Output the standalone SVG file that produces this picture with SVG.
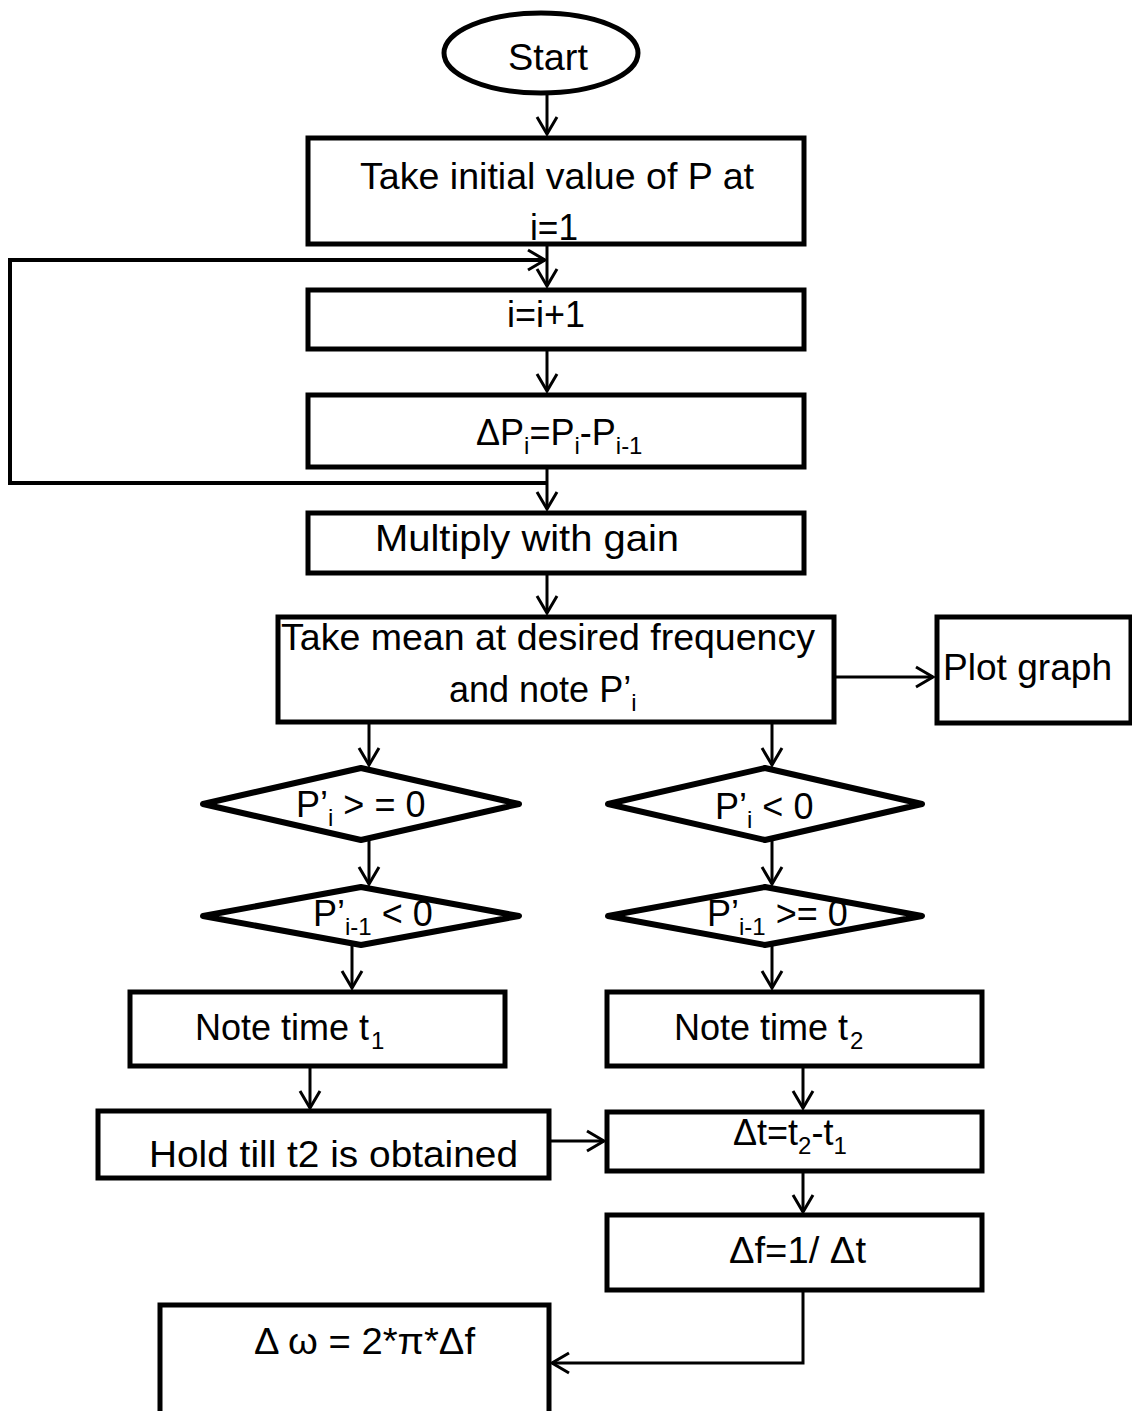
<svg xmlns="http://www.w3.org/2000/svg" width="1132" height="1411" viewBox="0 0 1132 1411">
  <style>
    .box { fill: #fff; stroke: #000; stroke-width: 5; }
    .dia { fill: #fff; stroke: #000; stroke-width: 6; stroke-linejoin: round; }
    .con { fill: none; stroke: #000; stroke-width: 3; }
    .t { font-family: "Liberation Sans", Arial, sans-serif; font-size: 36px; fill: #000; }
    .sub { font-size: 24px; }
  </style>
  <defs>
    <marker id="arr" markerWidth="22" markerHeight="24" refX="19" refY="12" orient="auto" markerUnits="userSpaceOnUse">
      <path d="M2,2 L19,12 L2,22" fill="none" stroke="#000" stroke-width="3"/>
    </marker>
  </defs>
  <rect width="1132" height="1411" fill="#fff"/>

  <g id="connectors">
    <path class="con" d="M547,93 V134" marker-end="url(#arr)"/>
    <path class="con" d="M547,244 V286" marker-end="url(#arr)"/>
    <path class="con" d="M547,349 V391" marker-end="url(#arr)"/>
    <path class="con" d="M547,467 V509" marker-end="url(#arr)"/>
    <path class="con" d="M547,483 H10 V260 H545" style="stroke-width:4" marker-end="url(#arr)"/>
    <path class="con" d="M547,573 V613" marker-end="url(#arr)"/>
    <path class="con" d="M834,677 H933" marker-end="url(#arr)"/>
    <path class="con" d="M369,722 V765" marker-end="url(#arr)"/>
    <path class="con" d="M772,722 V765" marker-end="url(#arr)"/>
    <path class="con" d="M369,840 V884" marker-end="url(#arr)"/>
    <path class="con" d="M772,840 V884" marker-end="url(#arr)"/>
    <path class="con" d="M352,945 V988" marker-end="url(#arr)"/>
    <path class="con" d="M772,945 V988" marker-end="url(#arr)"/>
    <path class="con" d="M310,1066 V1108" marker-end="url(#arr)"/>
    <path class="con" d="M803,1066 V1108" marker-end="url(#arr)"/>
    <path class="con" d="M549,1141 H604" marker-end="url(#arr)"/>
    <path class="con" d="M803,1171 V1212" marker-end="url(#arr)"/>
    <path class="con" d="M803,1290 V1363 H552" marker-end="url(#arr)"/>
  </g>

  <g id="start">
    <ellipse cx="541" cy="53" rx="97" ry="40" class="box"/>
    <text class="t" x="508" y="70" textLength="80" lengthAdjust="spacingAndGlyphs">Start</text>
  </g>

  <g id="init">
    <rect x="308" y="138" width="496" height="106" class="box"/>
    <text class="t" x="360" y="189" textLength="394" lengthAdjust="spacingAndGlyphs">Take initial value of P at</text>
    <text class="t" x="530" y="240" textLength="48" lengthAdjust="spacingAndGlyphs">i=1</text>
  </g>

  <g id="increment">
    <rect x="308" y="290" width="496" height="59" class="box"/>
    <text class="t" x="507" y="327" textLength="78" lengthAdjust="spacingAndGlyphs">i=i+1</text>
  </g>

  <g id="delta-p">
    <rect x="308" y="395" width="496" height="72" class="box"/>
    <text class="t" x="476" y="445">ΔP<tspan class="sub" dy="9">i</tspan><tspan dy="-9">=P</tspan><tspan class="sub" dy="9">i</tspan><tspan dy="-9">-P</tspan><tspan class="sub" dy="9">i-1</tspan></text>
  </g>

  <g id="gain">
    <rect x="308" y="513" width="496" height="60" class="box"/>
    <text class="t" x="375" y="551" textLength="304" lengthAdjust="spacingAndGlyphs">Multiply with gain</text>
  </g>

  <g id="mean">
    <rect x="278" y="617" width="556" height="105" class="box"/>
    <text class="t" x="281" y="650" textLength="534" lengthAdjust="spacingAndGlyphs">Take mean at desired  frequency</text>
    <text class="t" x="449" y="702">and note P’<tspan class="sub" dy="9">i</tspan></text>
  </g>

  <g id="plot">
    <rect x="937" y="617" width="194" height="106" class="box"/>
    <text class="t" x="943" y="680" textLength="169" lengthAdjust="spacingAndGlyphs">Plot graph</text>
  </g>

  <g id="cond-pos">
    <polygon points="361,768 519,804 361,840 203,804" class="dia"/>
    <text class="t" x="296" y="817">P’<tspan class="sub" dy="9">i</tspan><tspan dy="-9"> &gt; = 0</tspan></text>
  </g>

  <g id="cond-neg">
    <polygon points="765,768 922,804 765,840 608,804" class="dia"/>
    <text class="t" x="715" y="819">P’<tspan class="sub" dy="9">i</tspan><tspan dy="-9"> &lt; 0</tspan></text>
  </g>

  <g id="cond-prev-neg">
    <polygon points="361,887 519,916 361,945 203,916" class="dia"/>
    <text class="t" x="313" y="926">P’<tspan class="sub" dy="9">i-1</tspan><tspan dy="-9"> &lt; 0</tspan></text>
  </g>

  <g id="cond-prev-pos">
    <polygon points="765,887 922,916 765,945 608,916" class="dia"/>
    <text class="t" x="707" y="926">P’<tspan class="sub" dy="9">i-1</tspan><tspan dy="-9"> &gt;= 0</tspan></text>
  </g>

  <g id="time1">
    <rect x="130" y="992" width="375" height="74" class="box"/>
    <text class="t" x="195" y="1040">Note time t<tspan class="sub" dy="9" dx="2">1</tspan></text>
  </g>

  <g id="time2">
    <rect x="607" y="992" width="375" height="74" class="box"/>
    <text class="t" x="674" y="1040">Note time t<tspan class="sub" dy="9" dx="2">2</tspan></text>
  </g>

  <g id="hold">
    <rect x="98" y="1111" width="451" height="67" class="box"/>
    <text class="t" x="149" y="1167" textLength="369" lengthAdjust="spacingAndGlyphs">Hold till t2 is obtained</text>
  </g>

  <g id="delta-t">
    <rect x="607" y="1112" width="375" height="59" class="box"/>
    <text class="t" x="733" y="1145">Δt=t<tspan class="sub" dy="9">2</tspan><tspan dy="-9">-t</tspan><tspan class="sub" dy="9">1</tspan></text>
  </g>

  <g id="delta-f">
    <rect x="607" y="1215" width="375" height="75" class="box"/>
    <text class="t" x="729" y="1263" textLength="137" lengthAdjust="spacingAndGlyphs">Δf=1/ Δt</text>
  </g>

  <g id="delta-omega">
    <rect x="160" y="1305" width="389" height="110" class="box"/>
    <text class="t" x="254" y="1354" textLength="221" lengthAdjust="spacingAndGlyphs">Δ ω = 2*π*Δf</text>
  </g>
</svg>
